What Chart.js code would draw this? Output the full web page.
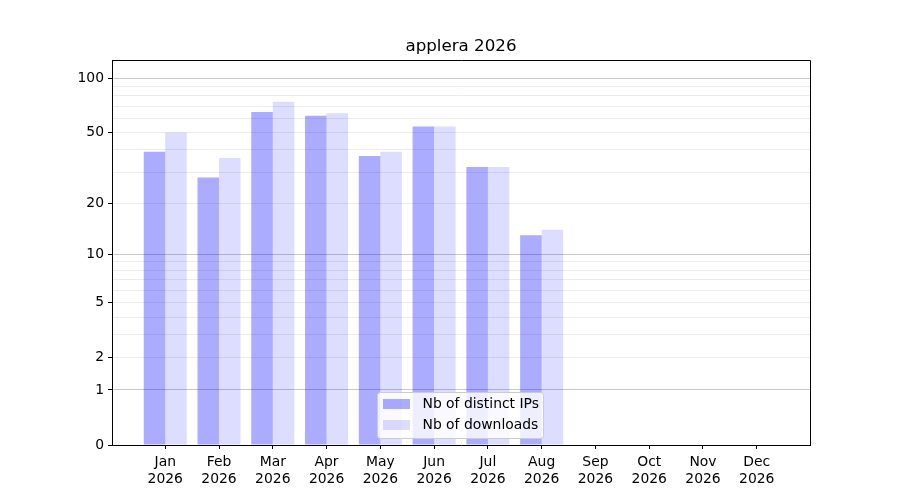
<!DOCTYPE html>
<html>
<head>
<meta charset="utf-8">
<script src="https://cdn.jsdelivr.net/npm/chart.js@4"></script>
<style>
  html, body { margin: 0; padding: 0; background: #fff; }
  canvas { display: block; }
</style>
</head>
<body>
<canvas id="chart" width="900" height="500"></canvas>
<script>
// chart data
const title = "applera 2026";
const months = ["Jan", "Feb", "Mar", "Apr", "May", "Jun", "Jul", "Aug", "Sep", "Oct", "Nov", "Dec"];
const yearLabel = "2026";
const distinctIps = [39, 28, 65, 62, 37, 54, 32, 13];
const downloads = [50, 36, 74, 64, 39, 54, 32, 14];
const seriesNames = ["Nb of distinct IPs", "Nb of downloads"];

// y axis ticks (log(1+x) scale)
const yLabelTicks = [0, 1, 2, 5, 10, 20, 50, 100];
const yMinorTicks = [3, 4, 6, 7, 8, 9, 30, 40, 60, 70, 80, 90];
const yDarkGrid = [1, 10, 100];
const yMax = 126;

const ipColor = "rgba(0, 0, 255, 0.33)";
const dlColor = "rgba(0, 0, 255, 0.135)";
const font = "'DejaVu Sans', sans-serif";

// log10(1 + x) scale, like the symlog-ish axis of the original
class Log1pScale extends Chart.LinearScale {
    determineDataLimits() {
        this.min = this.options.min;
        this.max = this.options.max;
    }
    buildTicks() {
        const all = yLabelTicks.concat(yMinorTicks).sort((a, b) => a - b);
        return all.map(v => ({ value: v }));
    }
    configure() {
        super.configure();
        this._lmin = Math.log10(1 + this.min);
        this._lmax = Math.log10(1 + this.max);
    }
    getPixelForValue(value) {
        return this.getPixelForDecimal((Math.log10(1 + value) - this._lmin) / (this._lmax - this._lmin));
    }
    getValueForPixel(pixel) {
        return Math.pow(10, this._lmin + this.getDecimalForPixel(pixel) * (this._lmax - this._lmin)) - 1;
    }
}
Log1pScale.id = 'log1p';
Log1pScale.defaults = Chart.LinearScale.defaults;
Chart.register(Log1pScale);

const toPoints = (arr) => arr.map((v, i) => ({ x: i, y: v }));

const framePlugin = {
    id: 'frame',
    afterDraw(chart) {
        const { ctx, chartArea: a } = chart;
        ctx.save();

        // title
        ctx.fillStyle = '#000';
        ctx.font = "16.7px " + font;
        ctx.textAlign = 'center';
        ctx.textBaseline = 'alphabetic';
        ctx.fillText(title, (a.left + a.right) / 2, a.top - 9);

        // top / right spines
        ctx.strokeStyle = '#000';
        ctx.lineWidth = 1;
        ctx.beginPath();
        ctx.moveTo(a.left, a.top + 0.5);
        ctx.lineTo(a.right + 0.5, a.top + 0.5);
        ctx.lineTo(a.right + 0.5, a.bottom);
        ctx.stroke();

        // legend, lower center inside the axes
        const w = 166, h = 46;
        const x0 = Math.round((a.left + a.right) / 2 - w / 2) - 0.5;
        const y0 = a.bottom - 7 - h + 0.5;
        ctx.beginPath();
        ctx.roundRect(x0, y0, w, h, 3);
        ctx.fillStyle = 'rgba(255,255,255,0.8)';
        ctx.fill();
        ctx.strokeStyle = '#cccccc';
        ctx.stroke();
        const colors = [ipColor, dlColor];
        ctx.font = "13.9px " + font;
        ctx.textAlign = 'left';
        ctx.textBaseline = 'middle';
        seriesNames.forEach((name, i) => {
            const cy = y0 + 11.5 + i * 21;
            ctx.fillStyle = colors[i];
            ctx.fillRect(x0 + 5.5, cy - 5, 27, 10);
            ctx.fillStyle = '#000';
            ctx.fillText(name, x0 + 45, cy + 0.5);
        });
        ctx.restore();
    }
};

new Chart(document.getElementById('chart'), {
    type: 'bar',
    data: {
        datasets: [
            { label: seriesNames[0], data: toPoints(distinctIps), backgroundColor: ipColor, borderWidth: 0 },
            { label: seriesNames[1], data: toPoints(downloads), backgroundColor: dlColor, borderWidth: 0 }
        ]
    },
    options: {
        responsive: false,
        animation: false,
        devicePixelRatio: 1,
        categoryPercentage: 0.8,
        barPercentage: 1.0,
        layout: { padding: { left: 0, right: 90, top: 60, bottom: 0 } },
        plugins: {
            legend: { display: false },
            title: { display: false },
            tooltip: { enabled: false }
        },
        scales: {
            x: {
                type: 'linear',
                min: -0.99,
                max: 11.99,
                offset: false,
                afterBuildTicks: (axis) => { axis.ticks = months.map((m, i) => ({ value: i })); },
                afterFit: (axis) => { axis.height = 55; },
                grid: { display: true, offset: false, drawOnChartArea: false, drawTicks: true, tickLength: 4, tickColor: '#000', tickWidth: 1 },
                border: { display: true, color: '#000', width: 1 },
                ticks: {
                    autoSkip: false,
                    maxRotation: 0,
                    padding: 5,
                    color: '#000',
                    font: { family: font, size: 13.9, lineHeight: 1.2 },
                    callback: (value) => [months[value], yearLabel]
                }
            },
            y: {
                type: 'log1p',
                min: 0,
                max: yMax,
                afterFit: (axis) => { axis.width = 112; },
                grid: {
                    color: (c) => {
                        const v = c.tick ? c.tick.value : null;
                        if (v === 0) return 'rgba(0,0,0,0)';
                        return yDarkGrid.includes(v) ? '#c8c8c8' : '#ececec';
                    },
                    tickColor: (c) => (c.tick && yLabelTicks.includes(c.tick.value)) ? '#000' : 'rgba(0,0,0,0)',
                    lineWidth: 1,
                    tickLength: 4,
                    drawTicks: true
                },
                border: { display: true, color: '#000', width: 1 },
                ticks: {
                    autoSkip: false,
                    padding: 4,
                    color: '#000',
                    font: { family: font, size: 13.9 },
                    callback: (value) => yLabelTicks.includes(value) ? String(value) : ''
                }
            }
        }
    },
    plugins: [framePlugin]
});
</script>
</body>
</html>
